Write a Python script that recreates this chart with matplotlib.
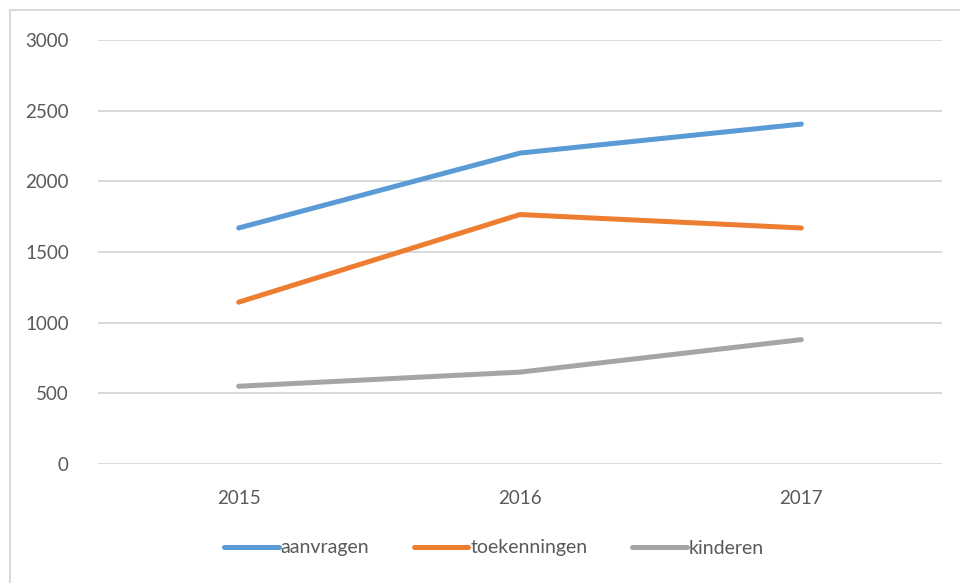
import matplotlib.pyplot as plt
from matplotlib.lines import Line2D

years = ["2015", "2016", "2017"]
aanvragen = [1670, 2200, 2405]
toekenningen = [1145, 1765, 1670]
kinderen = [550, 650, 880]

series = [
    ("aanvragen", aanvragen, "#5B9BD5"),
    ("toekenningen", toekenningen, "#ED7D31"),
    ("kinderen", kinderen, "#A5A5A5"),
]

plt.rcParams["font.family"] = ["Lato", "DejaVu Sans"]

fig = plt.figure(figsize=(9.6, 5.83), dpi=100)
ax = fig.add_axes([98 / 960, 1 - 464 / 583, 844 / 960, 424 / 583])

x = range(len(years))
for name, vals, col in series:
    ax.plot(x, vals, color=col, linewidth=3.6, solid_capstyle="round",
            label=name, zorder=3)

ax.set_xlim(-0.5, len(years) - 0.5)
ax.set_ylim(0, 3000)
ax.set_yticks(range(0, 3001, 500))
ax.set_xticks(list(x))
ax.set_xticklabels(years)
ax.grid(True, axis="y", color="#D9D9D9", linewidth=1.4, zorder=0)
for s in ax.spines.values():
    s.set_visible(False)
ax.tick_params(axis="both", length=0, labelsize=13.5, colors="#595959")
ax.tick_params(axis="y", pad=21)
ax.tick_params(axis="x", pad=19)

# chart border (top and left only visible)
fig.add_artist(Line2D([10 / 960, 10 / 960], [0, 1 - 10 / 583],
                      color="#D9D9D9", linewidth=1.5))
fig.add_artist(Line2D([10 / 960, 1], [1 - 10 / 583, 1 - 10 / 583],
                      color="#D9D9D9", linewidth=1.5))

handles = [Line2D([], [], color=c, linewidth=3.6, solid_capstyle="round")
           for _, _, c in series]
fig.legend(handles, [n for n, _, _ in series], loc="center",
           bbox_to_anchor=(494 / 960, 1 - 548 / 583), ncol=3, frameon=False,
           fontsize=14, labelcolor="#595959", handlelength=2.8,
           handletextpad=0.1, columnspacing=2.3)

fig.savefig("out.png", dpi=100)
